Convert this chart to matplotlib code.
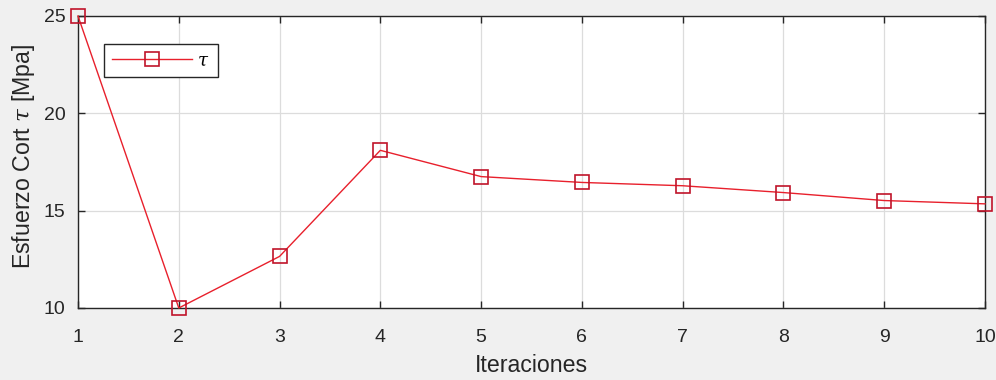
import matplotlib
matplotlib.use("Agg")
import matplotlib.pyplot as plt

# Shear stress per iteration
iteraciones = [1, 2, 3, 4, 5, 6, 7, 8, 9, 10]
tau_mpa = [25.0, 10.0, 12.65, 18.1, 16.75, 16.45, 16.28, 15.93, 15.52, 15.35]
x_ticks = [1, 2, 3, 4, 5, 6, 7, 8, 9, 10]
y_ticks = [10, 15, 20, 25]

plt.rcParams['font.family'] = ['Liberation Sans', 'DejaVu Sans']
plt.rcParams['mathtext.fontset'] = 'dejavuserif'

axis_color = '#262626'

fig = plt.figure(figsize=(9.96, 3.80), dpi=100, facecolor='#f0f0f0')
ax = fig.add_axes([78 / 996, 1 - 308 / 380, (985 - 78) / 996, (308 - 16) / 380])
ax.set_facecolor('white')

ax.plot(iteraciones, tau_mpa, '-s', color='#e8202c', linewidth=1.0,
        markersize=9.5, markerfacecolor='none', markeredgecolor='#c0142a',
        markeredgewidth=1.2, label=r'$\tau$', clip_on=False, zorder=3)

ax.set_xlim(1, 10)
ax.set_ylim(10, 25)
ax.set_xticks(x_ticks)
ax.set_yticks(y_ticks)
ax.grid(True, color='#dcdcdc', linewidth=0.9)
ax.set_axisbelow(True)

for s in ax.spines.values():
    s.set_color(axis_color)
    s.set_linewidth(1.0)
ax.tick_params(direction='in', length=5, width=1.0, colors=axis_color,
               labelsize=14, top=True, right=True)
ax.tick_params(axis='x', pad=15)
ax.tick_params(axis='y', pad=9)
for lbl in ax.get_xticklabels() + ax.get_yticklabels():
    lbl.set_color(axis_color)

ax.set_xlabel('Iteraciones', fontsize=16.7, color=axis_color, labelpad=6)
ax.set_ylabel(r'Esfuerzo Cort $\tau$ [Mpa]', fontsize=16.7, color=axis_color)
ax.yaxis.set_label_coords(-0.0455, 0.52)

leg = ax.legend(loc='upper left', bbox_to_anchor=(0.029, 0.904), borderaxespad=0,
                fontsize=13, handlelength=4.4, handletextpad=0.3, borderpad=0.45,
                fancybox=False, framealpha=1, edgecolor=axis_color)
leg.get_frame().set_linewidth(1.0)

fig.savefig('out.png', dpi=100, facecolor=fig.get_facecolor())
